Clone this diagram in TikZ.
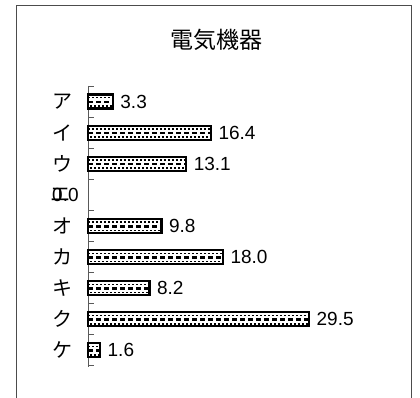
\documentclass[tikz,border=0pt]{standalone}
\usepackage{fontspec}
\setmainfont{Liberation Sans}
\newfontfamily\jp{Noto Sans CJK JP}
\tikzset{
  frameline/.style={draw=black!70, line width=1pt},
  axisline/.style={draw=black!65, line width=1pt},
  tickline/.style={draw=black!65, line width=0.9pt},
  catlabel/.style={font=\jp\fontsize{20}{22}\selectfont, inner sep=0pt},
  vallabel/.style={font=\fontsize{19}{21}\selectfont, inner sep=0pt, anchor=west},
  titlelabel/.style={font=\jp\fontsize{23}{26}\selectfont, inner sep=0pt},
  barbox/.style={draw=black, line width=2.2pt, fill=white, minimum height=14pt,
    inner sep=0pt, outer sep=0pt, anchor=west,
    path picture={
      \draw[line width=1.5pt, dash pattern=on 1.5pt off 2.5pt]
        ([yshift=3.8pt]path picture bounding box.west) -- ([yshift=3.8pt]path picture bounding box.east);
      \draw[line width=2.6pt, dash pattern=on 5pt off 3pt]
        ([yshift=-0.3pt]path picture bounding box.west) -- ([yshift=-0.3pt]path picture bounding box.east);
      \draw[line width=1.6pt, dash pattern=on 1.5pt off 2.5pt, dash phase=2pt]
        ([yshift=-4.5pt]path picture bounding box.west) -- ([yshift=-4.5pt]path picture bounding box.east);
    }},
}
\begin{document}
\begin{tikzpicture}[x=1pt, y=-1pt]
\useasboundingbox (0,0) rectangle (420,398);
\coordinate (fbl) at (16.5,400);
\coordinate (ftl) at (16.5,5.5);
\coordinate (ftr) at (411.5,5.5);
\coordinate (fbr) at (411.5,400);
\draw[frameline] (fbl) -- (ftl) -- (ftr) -- (fbr);
\node[titlelabel] (title) at (216,40) {電気機器};
\coordinate (axtop) at (88.5,86);
\coordinate (axbot) at (88.5,367);
\draw[axisline] (axtop) -- (axbot);
\foreach \k in {0,...,9}{
  \coordinate (t\k) at (88.5,{86+31.1*\k});
  \draw[tickline] (t\k) -- ++(5,0);
}
\foreach \lab/\val/\i/\nm in {ア/3.3/0/a, イ/16.4/1/b, ウ/13.1/2/c, オ/9.8/4/e, カ/18.0/5/f, キ/8.2/6/g, ク/29.5/7/h, ケ/1.6/8/i}{
  \node[catlabel] (c\nm) at (62,{86+31.1*(\i+0.5)}) {\lab};
  \node[barbox, minimum width={\val*7.49pt}] (b\nm) at (88,{86+31.1*(\i+0.5)}) {};
  \node[vallabel] (v\nm) at ([xshift=7.5pt]b\nm.east) {\val};
}
\node[catlabel] (cd) at (60,{86+31.1*3.5}) {エ};
\node[vallabel] (vd) at (52,{86+31.1*3.5}) {0.0};
\end{tikzpicture}
\end{document}
